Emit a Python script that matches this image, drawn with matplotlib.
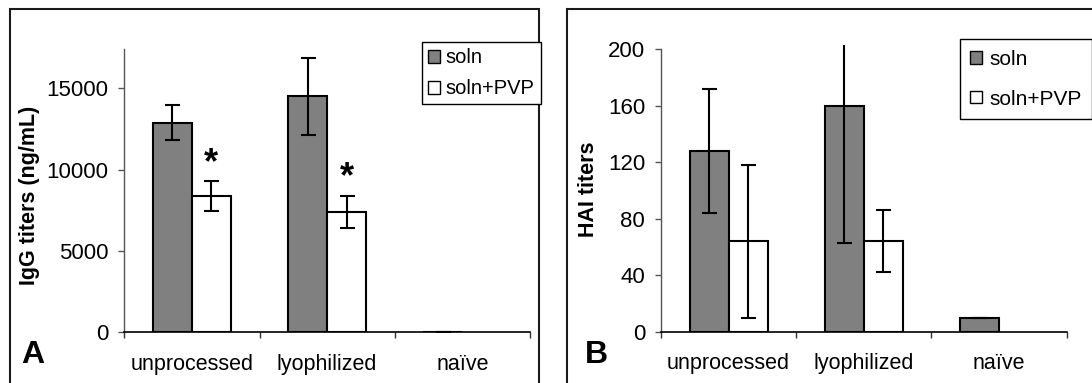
import numpy as np
import matplotlib.pyplot as plt
from matplotlib.patches import Rectangle, Patch

plt.rcParams['font.family'] = ['Liberation Sans', 'DejaVu Sans']

groups = ['unprocessed', 'lyophilized', 'na\u00efve']

# panel A: IgG titers (ng/mL)
igg_soln = [12900, 14500, 30]
igg_soln_err = [1100, 2340, 0]
igg_pvp = [8360, 7400, np.nan]
igg_pvp_err = [920, 990, np.nan]
igg_star = [True, True, False]

# panel B: HAI titers
hai_soln = [128, 160, 10]
hai_soln_err = [44, 97, 0]
hai_pvp = [64, 64, np.nan]
hai_pvp_err = [54, 22, np.nan]

W, H = 1092, 383
fig = plt.figure(figsize=(W / 100, H / 100), dpi=100)


def fx(px):
    return px / W


def fy(py):
    return 1 - py / H


gray = '#808080'
bw = 0.288
x = np.arange(len(groups))


def draw_panel(ax, soln, soln_err, pvp, pvp_err, ymax, yticks, spine_top):
    ax.bar(x - bw / 2, soln, bw, color=gray, edgecolor='black', linewidth=1.5, zorder=2)
    ax.bar(x + bw / 2, pvp, bw, color='white', edgecolor='black', linewidth=1.5, zorder=2)
    ax.errorbar(x - bw / 2, soln, yerr=soln_err, fmt='none', ecolor='black',
                elinewidth=1.5, capsize=5.4, capthick=1.5, zorder=3)
    ax.errorbar(x + bw / 2, pvp, yerr=pvp_err, fmt='none', ecolor='black',
                elinewidth=1.5, capsize=5.4, capthick=1.5, zorder=3)
    ax.set_xlim(-0.5, len(groups) - 0.5)
    ax.set_ylim(0, ymax)
    ax.set_yticks(yticks)
    ax.set_xticks(x)
    ax.set_xticklabels(groups, fontsize=15.5)
    ax.set_xticks(np.arange(len(groups) + 1) - 0.5, minor=True)
    ax.tick_params(axis='x', which='major', length=0, pad=15.5)
    ax.tick_params(axis='x', which='minor', length=4.5, width=1, color='#333333')
    ax.tick_params(axis='y', length=4.5, width=1, color='#555555', pad=7, labelsize=16)
    for s in ['top', 'right']:
        ax.spines[s].set_visible(False)
    ax.spines['left'].set_color('#555555')
    ax.spines['left'].set_linewidth(1)
    ax.spines['left'].set_bounds(0, spine_top)
    ax.spines['bottom'].set_color('black')
    ax.spines['bottom'].set_linewidth(1.2)
    handles = [Patch(facecolor=gray, edgecolor='black', linewidth=1, label='soln'),
               Patch(facecolor='white', edgecolor='black', linewidth=1, label='soln+PVP')]
    return handles


# panel A
axA = fig.add_axes([fx(124.3), fy(332.3), (530 - 124.3) / W, (332.3 - 49) / H])
hA = draw_panel(axA, igg_soln, igg_soln_err, igg_pvp, igg_pvp_err,
                17420, [0, 5000, 10000, 15000], 17420)
for xi, star, v, e in zip(x, igg_star, igg_pvp, igg_pvp_err):
    if star:
        axA.annotate('*', (xi + bw / 2, v + e), xytext=(0, 6), textcoords='offset points',
                     ha='center', va='baseline', fontsize=26, fontweight='bold')
legA = fig.legend(handles=hA, loc='upper left', bbox_to_anchor=(fx(421.7), fy(42.3)),
                  fontsize=14.5, frameon=True, fancybox=False, framealpha=1,
                  edgecolor='black', borderpad=0.3, handlelength=0.6, handleheight=0.6,
                  handletextpad=0.3, labelspacing=0.6, borderaxespad=0)
legA.get_frame().set_linewidth(1)

# panel B
axB = fig.add_axes([fx(661), fy(331.7), (1066.5 - 661) / W, (331.7 - 45.1) / H])
hB = draw_panel(axB, hai_soln, hai_soln_err, hai_pvp, hai_pvp_err,
                203, [0, 40, 80, 120, 160, 200], 200)
legB = fig.legend(handles=hB, loc='upper left', bbox_to_anchor=(fx(960), fy(39.3)),
                  fontsize=15, frameon=True, fancybox=False, framealpha=1,
                  edgecolor='black', borderpad=0.5, handlelength=0.55, handleheight=0.55,
                  handletextpad=0.35, labelspacing=1.0, borderaxespad=0)
legB.get_frame().set_linewidth(1)

# y labels and panel letters
fig.text(fx(30), fy(195), 'IgG titers (ng/mL)', rotation=90, ha='center', va='center',
         fontsize=15.5, fontweight='bold')
fig.text(fx(589), fy(189), 'HAI titers', rotation=90, ha='center', va='center',
         fontsize=15.5, fontweight='bold')
fig.text(fx(21.7), fy(363.3), 'A', ha='left', va='baseline', fontsize=23, fontweight='bold')
fig.text(fx(585), fy(363), 'B', ha='left', va='baseline', fontsize=23, fontweight='bold')

# panel frames
for left, right in [(10, 538.5), (567, 1100)]:
    fig.patches.append(Rectangle((fx(left), fy(400)), (right - left) / W, (400 - 9) / H,
                                 transform=fig.transFigure, fill=False, lw=1.5,
                                 edgecolor='#1a1a1a', zorder=0))

fig.savefig('out.png', dpi=100)
